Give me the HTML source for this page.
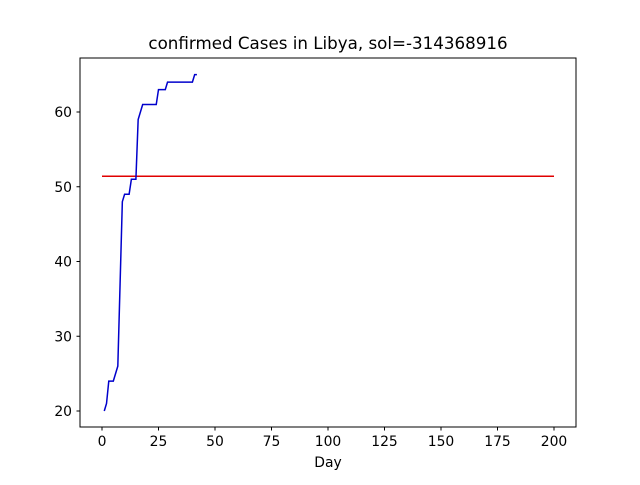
<!DOCTYPE html>
<html><head><meta charset="utf-8"><style>body{margin:0;background:#fff}svg{font-family:"DejaVu Sans","Liberation Sans",sans-serif}</style></head>
<body>
<svg id="c" width="640" height="480"></svg>
<script>
const cases=[20,21,24,24,24,25,26,37,48,49,49,49,51,51,51,59,60,61,61,61,61,61,61,61,63,63,63,63,64,64,64,64,64,64,64,64,64,64,64,64,65,65];
const solValue=51.4;
const solRange=[0,200];
const xTicks=[0,25,50,75,100,125,150,175,200];
const yTicks=[20,30,40,50,60];
const ns="http://www.w3.org/2000/svg";
const svg=document.getElementById('c');
const X=v=>102+v*2.26, Y=v=>411-(v-20)*7.475;
function mk(t,a,txt){const e=document.createElementNS(ns,t);for(const k in a)e.setAttribute(k,a[k]);if(txt!==undefined)e.textContent=txt;svg.appendChild(e);return e;}
const frame=mk('rect',{x:80,y:58,width:496,height:369,fill:'none',stroke:'#000','stroke-width':1});


xTicks.forEach(t=>{const x=X(t);
const l=mk('line',{x1:x,x2:x,y1:427,y2:430.5,stroke:'#000'});


const tx=mk('text',{x:x,y:446,'font-size':13.9,'text-anchor':'middle'},t);

});
yTicks.forEach(t=>{const y=Y(t);
const l=mk('line',{x1:76.5,x2:80,y1:y,y2:y,stroke:'#000'});


const tx=mk('text',{x:72,y:y+5,'font-size':13.9,'text-anchor':'end'},t);

});
const red=mk('line',{x1:X(solRange[0]),x2:X(solRange[1]),y1:Y(solValue),y2:Y(solValue),stroke:'#e00000','stroke-width':1.5});


const blue=mk('polyline',{points:cases.map((v,i)=>X(i+1)+','+Y(v)).join(' '),fill:'none',stroke:'#0000cc','stroke-width':1.5});


const ti=mk('text',{x:328,y:49,'font-size':16.7,'text-anchor':'middle'},'confirmed Cases in Libya, sol=-314368916');


const xl=mk('text',{x:328,y:467,'font-size':13.9,'text-anchor':'middle'},'Day');


</script>
</body></html>
